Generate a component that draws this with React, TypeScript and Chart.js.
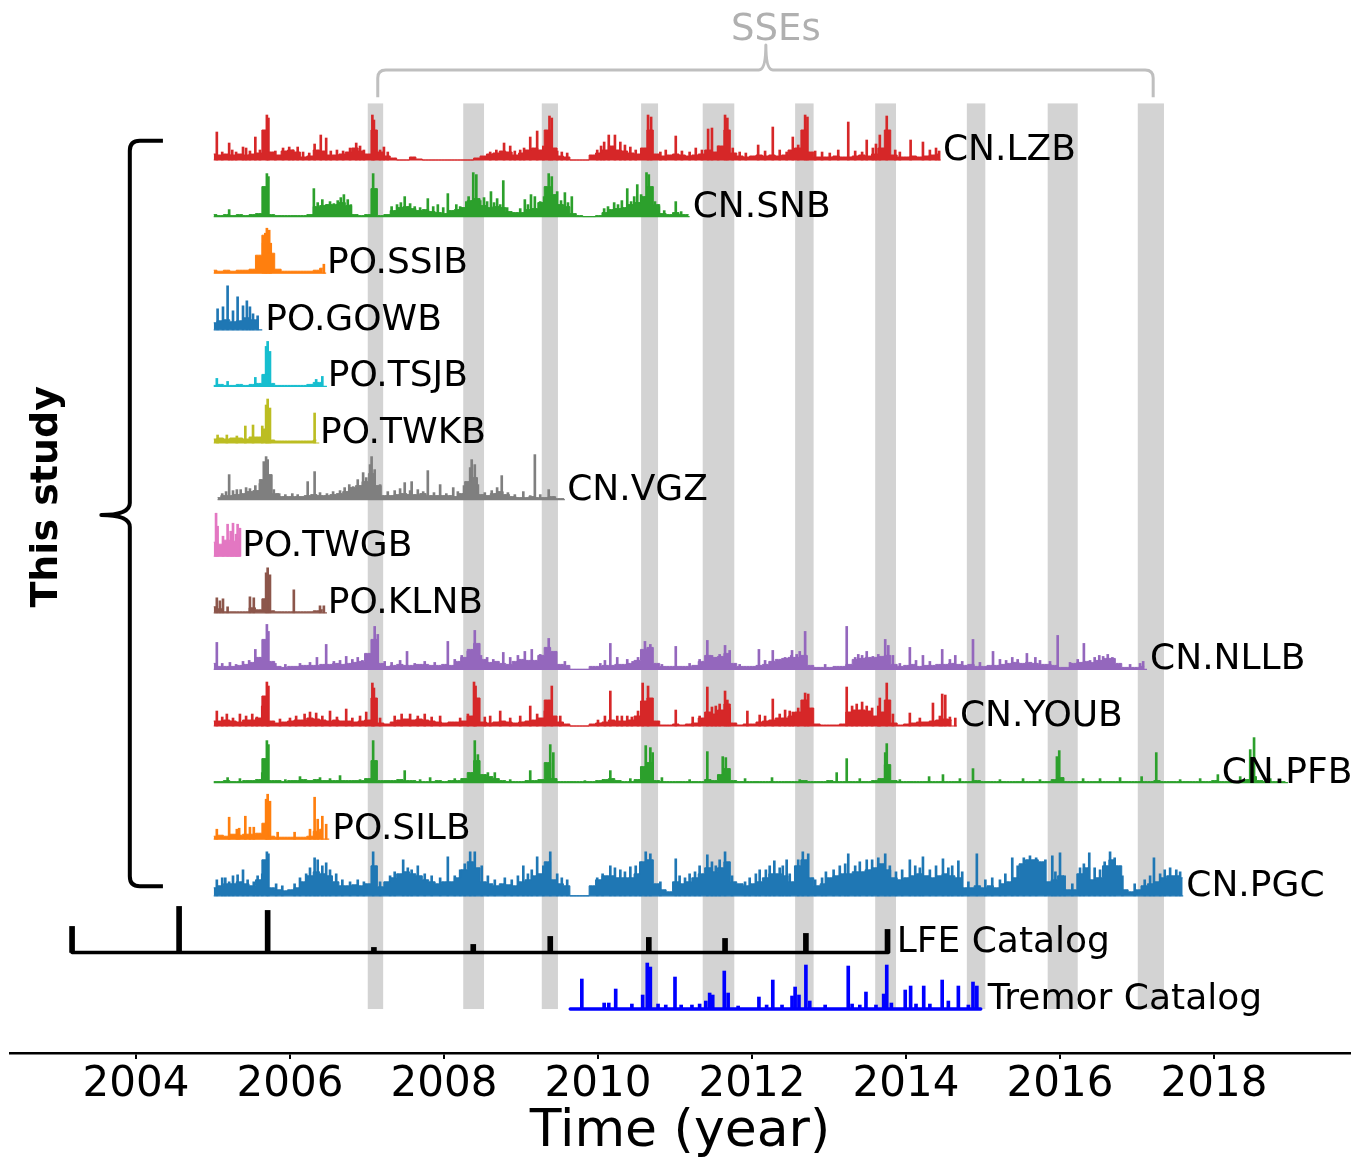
import React, { useEffect, useRef } from 'react';
import { Chart, registerables } from 'chart.js';

Chart.register(...registerables);

const FONT_FAMILY = '"DejaVu Sans", "Liberation Sans", sans-serif';

// Time axis, decimal years
const X_MIN = 2002.364;
const X_MAX = 2019.766;
const TICK_YEARS = [2004, 2006, 2008, 2010, 2012, 2014, 2016, 2018];

// Slow slip episodes (shaded bands)
const SSE_START = [2007.01, 2008.25, 2009.27, 2010.56, 2011.36, 2012.56, 2013.6, 2014.79, 2015.84, 2017.01];
const SSE_END = [2007.21, 2008.52, 2009.48, 2010.78, 2011.77, 2012.8, 2013.87, 2015.03, 2016.23, 2017.35];

// Amplitude units spanning one row of the stack
const AMP_PER_ROW = 56.6;

// ---- Monthly detection levels per station (amplitude units) ----
const LZB_MONTHLY = [
  6, 5, 6, 5, 6, 5, 6, 7, 30, 8, 5, 9, 10, 8, 3, 4, 10, 9, 5, 5,
  6, 8, 12, 9, 6, 30, 8, 4, 2, 0, 0, 3, 1, 0, 0, 0, 0, 0, 0, 0,
  0, 2, 4, 6, 7, 9, 8, 5, 7, 10, 12, 10, 30, 12, 4, 3, 0, 0, 0, 5,
  7, 10, 14, 10, 9, 7, 6, 12, 30, 6, 4, 5, 6, 5, 4, 5, 6, 10, 8, 14,
  30, 7, 4, 3, 4, 5, 4, 5, 4, 5, 10, 12, 30, 8, 3, 3, 3, 4, 3, 3,
  4, 5, 4, 6, 12, 30, 5, 3, 3, 4, 3, 4, 5, 6,
];
const SNB_MONTHLY = [
  2, 1, 2, 1, 2, 1, 2, 3, 30, 2, 1, 1, 1, 1, 1, 2, 10, 11, 12, 12,
  14, 11, 2, 1, 2, 28, 1, 2, 6, 9, 10, 8, 6, 7, 5, 4, 3, 6, 7, 9,
  16, 18, 11, 9, 10, 9, 5, 4, 4, 7, 8, 14, 30, 22, 12, 10, 3, 1, 0, 0,
  1, 4, 7, 8, 9, 12, 14, 20, 30, 12, 3, 2, 4, 2, 2,
];
const SSIB_MONTHLY = [3, 2, 3, 2, 3, 3, 4, 18, 38, 20, 4, 2, 2, 2, 2, 2, 3, 5];
const GOWB_MONTHLY = [7, 9, 10, 8, 9, 12, 10, 10];
const TSJB_MONTHLY = [1, 2, 1, 1, 2, 1, 2, 3, 12, 3, 1, 1, 1, 1, 1, 2, 4, 4];
const TWKB_MONTHLY = [4, 5, 4, 5, 5, 4, 6, 6, 14, 3, 2, 2, 2, 2, 2, 2, 3];
const VGZ_MONTHLY = [
  2, 4, 4, 5, 6, 8, 9, 20, 25, 6, 3, 3, 3, 3, 4, 5, 4, 4, 5, 6,
  8, 12, 14, 18, 26, 14, 4, 4, 5, 6, 5, 5, 6, 4, 4, 4, 4, 3, 6, 18,
  22, 5, 4, 6, 8, 5, 3, 2, 2, 3, 2, 2, 3, 1, 1,
];
const TWGB_MONTHLY = [14, 12, 16, 15, 18];
const KLNB_MONTHLY = [6, 4, 1, 1, 1, 1, 5, 3, 14, 2, 1, 1, 1, 1, 1, 1, 2, 3];
const NLLB_MONTHLY = [
  6, 3, 3, 3, 4, 5, 7, 12, 30, 8, 3, 2, 3, 3, 4, 4, 4, 5, 5, 6,
  5, 6, 7, 8, 16, 30, 6, 3, 4, 5, 4, 4, 5, 5, 4, 4, 5, 4, 8, 12,
  20, 26, 10, 7, 8, 6, 5, 8, 10, 9, 9, 14, 22, 18, 5, 4, 0, 0, 0, 3,
  3, 4, 4, 5, 5, 6, 9, 20, 22, 6, 3, 3, 3, 3, 3, 4, 8, 14, 12, 13,
  16, 6, 3, 3, 3, 4, 5, 8, 10, 11, 12, 12, 14, 4, 2, 2, 2, 3, 3, 5,
  10, 11, 12, 12, 13, 14, 5, 3, 4, 5, 3, 4, 4, 5, 5, 6, 5, 4, 5, 3,
  3, 4, 4, 5, 6, 7, 6, 7, 6, 5, 5, 4, 2, 2, 6, 7, 8, 7, 9, 11,
  11, 6, 2, 2, 2, 3,
];
const YOUB_MONTHLY = [
  5, 5, 6, 5, 4, 6, 6, 8, 30, 5, 3, 4, 5, 6, 6, 8, 7, 6, 5, 6,
  5, 5, 4, 5, 6, 28, 3, 2, 4, 6, 7, 6, 7, 6, 5, 4, 3, 4, 4, 5,
  10, 28, 4, 3, 4, 5, 4, 3, 4, 5, 6, 8, 26, 10, 4, 2, 0, 0, 0, 2,
  3, 4, 6, 5, 5, 6, 10, 25, 28, 5, 1, 1, 2, 1, 2, 3, 8, 14, 12, 16,
  22, 3, 1, 2, 2, 4, 5, 6, 8, 8, 10, 14, 26, 18, 2, 1, 1, 1, 2, 14,
  16, 16, 15, 10, 14, 26, 3, 1, 2, 3, 4, 4, 5, 6, 7, 6,
];
const PFB_MONTHLY = [
  1, 1, 2, 1, 1, 2, 2, 3, 24, 2, 2, 1, 2, 2, 3, 2, 3, 2, 2, 2,
  2, 2, 2, 2, 4, 22, 2, 2, 2, 3, 2, 2, 1, 1, 1, 2, 1, 2, 2, 4,
  10, 22, 8, 6, 4, 2, 1, 1, 1, 2, 2, 3, 20, 4, 1, 1, 1, 1, 1, 1,
  2, 3, 4, 2, 1, 1, 3, 16, 20, 2, 1, 1, 1, 1, 1, 1, 1, 3, 2, 8,
  14, 2, 1, 1, 1, 1, 1, 1, 1, 1, 1, 1, 2, 1, 1, 1, 2, 1, 1, 1,
  1, 1, 1, 2, 4, 18, 2, 1, 1, 1, 1, 1, 1, 1, 1, 1, 1, 1, 1, 2,
  1, 1, 1, 1, 1, 1, 1, 1, 1, 1, 1, 3, 5, 1, 1, 1, 1, 1, 1, 1,
  1, 1, 1, 1, 1, 1, 1, 2, 1, 1, 1, 1, 1, 1, 1, 1, 2, 1, 1, 1,
  1, 3, 6, 2, 1, 1, 1, 1,
];
const SILB_MONTHLY = [3, 4, 3, 5, 4, 5, 5, 6, 16, 3, 2, 2, 2, 2, 2, 3, 8, 10];
const PGC_MONTHLY = [
  8, 10, 12, 12, 14, 12, 10, 16, 36, 8, 6, 5, 6, 8, 14, 20, 24, 22, 20, 14,
  10, 10, 11, 10, 12, 30, 9, 14, 18, 22, 24, 22, 20, 16, 14, 12, 14, 14, 18, 26,
  34, 28, 14, 12, 10, 12, 11, 10, 14, 16, 20, 22, 34, 16, 12, 10, 0, 0, 0, 10,
  16, 20, 20, 18, 18, 18, 22, 34, 36, 12, 6, 4, 14, 12, 14, 18, 22, 28, 24, 28,
  34, 14, 12, 10, 12, 14, 18, 22, 22, 20, 14, 30, 36, 18, 10, 12, 18, 20, 22, 22,
  24, 24, 26, 28, 32, 26, 18, 16, 18, 20, 22, 20, 18, 20, 22, 20, 18, 8, 8, 10,
  8, 10, 8, 12, 14, 18, 32, 36, 36, 34, 14, 16, 20, 6, 6, 22, 28, 16, 18, 30,
  36, 30, 6, 4, 6, 10, 12, 14, 18, 20, 20, 18,
];

// ---- Isolated daily bursts per station: [year, amplitude] ----
const LZB_SPIKES = [
  [2005.05, 28], [2005.21, 17], [2005.39, 13], [2005.55, 23], [2005.7, 45], [2005.72, 42],
  [2006.32, 16], [2006.4, 25], [2006.47, 22], [2006.86, 17], [2007.07, 45], [2007.09, 40],
  [2008.78, 17], [2009.12, 23], [2009.21, 29], [2009.37, 44], [2009.4, 42], [2010.14, 25],
  [2010.22, 25], [2010.65, 45], [2010.69, 43], [2011.01, 24], [2011.43, 31], [2011.48, 32],
  [2011.65, 45], [2011.68, 42], [2012.08, 15], [2012.27, 33], [2012.53, 23], [2012.69, 45],
  [2012.72, 43], [2013.25, 38], [2013.49, 20], [2013.66, 25], [2013.75, 44], [2014.06, 20],
  [2014.22, 18],
];
const LZB_MINOR = [
  [2005.12, 8], [2005.25, 10], [2005.3, 8], [2005.43, 12], [2005.48, 9], [2005.61, 10],
  [2005.81, 9], [2005.91, 12], [2005.99, 13], [2006.04, 10], [2006.1, 13], [2006.17, 8],
  [2006.25, 7], [2006.53, 9], [2006.61, 10], [2006.69, 9], [2006.78, 12], [2006.91, 14],
  [2006.96, 10], [2007.17, 10], [2007.22, 13], [2007.27, 8], [2008.6, 8], [2008.68, 10],
  [2008.86, 14], [2008.92, 9], [2008.99, 10], [2009.04, 12], [2009.29, 14], [2009.47, 9],
  [2009.53, 8], [2009.6, 7], [2009.99, 10], [2010.04, 14], [2010.08, 18], [2010.29, 18],
  [2010.35, 15], [2010.42, 13], [2010.49, 10], [2010.81, 8], [2010.88, 10], [2011.09, 9],
  [2011.19, 8], [2011.27, 12], [2011.35, 10], [2011.56, 14], [2011.75, 12], [2011.84, 8],
  [2011.92, 7], [2012.17, 9], [2012.36, 10], [2012.45, 8], [2012.6, 15], [2012.82, 9],
  [2012.91, 8], [2013.01, 7], [2013.12, 10], [2013.34, 9], [2013.43, 8], [2013.57, 12],
  [2013.61, 16], [2013.86, 10], [2013.92, 8], [2014.31, 10], [2014.39, 12], [2014.43, 9],
];
const SNB_SPIKES = [
  [2005.21, 7], [2005.7, 43], [2005.72, 40], [2006.31, 28], [2006.42, 17], [2006.7, 22],
  [2006.75, 17], [2007.08, 43], [2007.49, 20], [2007.79, 18], [2008.05, 23], [2008.38, 44],
  [2008.42, 42], [2008.61, 25], [2008.69, 18], [2008.77, 36], [2009.05, 17], [2009.13, 22],
  [2009.18, 20], [2009.36, 43], [2009.4, 40], [2009.47, 25], [2009.57, 24], [2009.66, 20],
  [2010.38, 28], [2010.51, 32], [2010.63, 44], [2010.66, 42], [2011.01, 15],
];
const SNB_MINOR = [
  [2006.36, 14], [2006.47, 12], [2006.52, 15], [2006.57, 13], [2006.62, 16], [2006.66, 19],
  [2006.79, 12], [2007.32, 10], [2007.39, 12], [2007.44, 14], [2007.56, 13], [2007.62, 10],
  [2007.69, 9], [2007.86, 10], [2007.92, 12], [2007.99, 9], [2008.16, 12], [2008.21, 10],
  [2008.29, 15], [2008.32, 20], [2008.47, 16], [2008.52, 19], [2008.56, 15], [2008.65, 14],
  [2008.73, 12], [2008.82, 9], [2008.99, 8], [2009.09, 12], [2009.25, 15], [2009.3, 20],
  [2009.52, 16], [2009.61, 14], [2010.08, 8], [2010.13, 10], [2010.21, 14], [2010.26, 12],
  [2010.31, 16], [2010.43, 15], [2010.47, 20], [2010.56, 22], [2010.74, 15], [2010.79, 10],
  [2010.86, 6], [2011.08, 5],
];
const SSIB_SPIKES = [[2005.65, 30], [2005.68, 40], [2005.7, 45], [2005.73, 43], [2005.75, 30], [2006.44, 9]];
const GOWB_SPIKES = [
  [2005.06, 21], [2005.13, 23], [2005.19, 44], [2005.26, 19], [2005.32, 33], [2005.39, 24],
  [2005.44, 29], [2005.48, 23], [2005.52, 16], [2005.58, 14],
];
const TSJB_SPIKES = [
  [2005.05, 8], [2005.19, 5], [2005.55, 9], [2005.69, 40], [2005.71, 45], [2005.74, 35],
  [2006.34, 7], [2006.42, 10],
];
const TWKB_SPIKES = [
  [2005.06, 8], [2005.18, 8], [2005.31, 7], [2005.42, 17], [2005.52, 18], [2005.64, 17],
  [2005.69, 38], [2005.71, 44], [2005.74, 35], [2006.32, 30],
];
const VGZ_SPIKES = [
  [2005.21, 25], [2005.31, 10], [2005.66, 38], [2005.69, 43], [2005.71, 40], [2006.23, 18],
  [2006.32, 28], [2006.88, 20], [2006.95, 27], [2007.04, 35], [2007.06, 43], [2007.1, 30],
  [2007.49, 17], [2007.58, 18], [2007.79, 29], [2007.95, 15], [2008.12, 12], [2008.34, 32],
  [2008.36, 40], [2008.4, 35], [2008.75, 24], [2009.03, 8], [2009.18, 45], [2009.36, 10],
];
const VGZ_MINOR = [
  [2005.12, 6], [2005.17, 8], [2005.26, 9], [2005.36, 10], [2005.43, 12], [2005.48, 11],
  [2005.55, 14], [2005.61, 16], [2005.79, 10], [2005.86, 6], [2005.94, 5], [2006.03, 6],
  [2006.1, 5], [2006.39, 7], [2006.48, 6], [2006.56, 8], [2006.65, 9], [2006.71, 12],
  [2006.77, 15], [2006.82, 13], [2006.99, 22], [2007.17, 15], [2007.27, 8], [2007.36, 9],
  [2007.43, 11], [2007.56, 9], [2007.66, 10], [2007.73, 8], [2007.87, 7], [2008.03, 6],
  [2008.18, 8], [2008.26, 14], [2008.44, 15], [2008.53, 7], [2008.62, 9], [2008.69, 12],
  [2008.83, 7], [2008.92, 5], [2009.12, 4], [2009.25, 5], [2009.44, 3],
];
const TWGB_SPIKES = [
  [2005.04, 43], [2005.06, 30], [2005.13, 20], [2005.19, 32], [2005.23, 25], [2005.26, 33],
  [2005.3, 22], [2005.32, 32], [2005.35, 28],
];
const KLNB_SPIKES = [
  [2005.05, 15], [2005.09, 12], [2005.13, 14], [2005.19, 6], [2005.48, 16], [2005.53, 15],
  [2005.69, 40], [2005.71, 45], [2005.74, 38], [2006.05, 23], [2006.39, 7], [2006.44, 7],
];
const NLLB_SPIKES = [
  [2005.05, 27], [2005.39, 8], [2005.55, 20], [2005.7, 45], [2005.72, 38], [2006.35, 12],
  [2006.47, 25], [2006.73, 13], [2007.1, 43], [2007.14, 35], [2007.52, 18], [2008.05, 28],
  [2008.4, 39], [2008.77, 17], [2009.05, 18], [2009.14, 20], [2009.36, 31], [2010.16, 26],
  [2010.25, 12], [2010.38, 10], [2010.61, 28], [2010.68, 25], [2011.01, 23], [2011.42, 29],
  [2011.65, 24], [2011.71, 19], [2012.09, 20], [2012.27, 19], [2012.52, 19], [2012.69, 38],
  [2013.23, 43], [2013.49, 18], [2013.73, 30], [2013.77, 24], [2014.05, 22], [2014.22, 14],
  [2014.47, 20], [2014.87, 30], [2015.13, 18], [2015.57, 16], [2015.97, 34], [2016.31, 26],
  [2016.56, 13], [2017.08, 8],
];
const NLLB_MINOR = [
  [2005.12, 6], [2005.22, 7], [2005.3, 5], [2005.47, 9], [2005.61, 12], [2005.81, 6],
  [2005.94, 5], [2006.13, 6], [2006.26, 7], [2006.57, 8], [2006.65, 9], [2006.81, 10],
  [2006.88, 12], [2006.94, 9], [2006.99, 15], [2007.23, 8], [2007.32, 7], [2007.43, 9],
  [2007.62, 6], [2007.75, 8], [2007.88, 7], [2008.14, 10], [2008.23, 14], [2008.31, 18],
  [2008.48, 14], [2008.56, 12], [2008.64, 10], [2008.86, 12], [2008.96, 14], [2009.25, 15],
  [2009.45, 12], [2009.57, 8], [2010.03, 6], [2010.09, 9], [2010.45, 8], [2010.52, 12],
  [2010.83, 5], [2011.19, 6], [2011.32, 10], [2011.48, 14], [2011.53, 12], [2011.58, 15],
  [2011.84, 5], [2012.17, 9], [2012.43, 12], [2012.51, 14], [2012.56, 12], [2012.58, 15],
  [2012.62, 18], [2012.95, 5], [2013.34, 12], [2013.38, 15], [2013.43, 14], [2013.57, 13],
  [2013.64, 15], [2013.83, 14], [2013.92, 6], [2014.13, 9], [2014.31, 8], [2014.57, 10],
  [2014.64, 14], [2014.73, 8], [2014.96, 7], [2015.22, 10], [2015.3, 9], [2015.38, 12],
  [2015.45, 10], [2015.68, 12], [2015.74, 9], [2015.87, 8], [2016.13, 7], [2016.23, 10],
  [2016.39, 9], [2016.45, 12], [2016.51, 14], [2016.62, 15], [2016.68, 12], [2016.91, 5],
  [2017.04, 6],
];
const YOUB_SPIKES = [
  [2005.05, 15], [2005.35, 12], [2005.64, 20], [2005.7, 44], [2005.72, 40], [2006.34, 13],
  [2006.52, 15], [2006.73, 17], [2007.07, 43], [2007.09, 38], [2007.56, 12], [2007.95, 10],
  [2008.39, 44], [2008.41, 40], [2008.73, 15], [2009.12, 20], [2009.4, 40], [2010.16, 35],
  [2010.25, 10], [2010.38, 10], [2010.44, 9], [2010.58, 43], [2010.65, 40], [2011.01, 16],
  [2011.23, 9], [2011.42, 39], [2011.48, 19], [2011.65, 35], [2011.68, 26], [2011.94, 15],
  [2012.1, 11], [2012.27, 27], [2012.43, 16], [2012.53, 14], [2012.69, 33], [2012.73, 32],
  [2013.23, 39], [2013.66, 28], [2013.75, 43], [2014.05, 13], [2014.35, 23], [2014.47, 32],
  [2014.51, 31],
];
const YOUB_MINOR = [
  [2005.12, 9], [2005.18, 12], [2005.26, 8], [2005.43, 10], [2005.51, 12], [2005.57, 9],
  [2005.87, 7], [2006.0, 8], [2006.08, 10], [2006.19, 12], [2006.26, 14], [2006.42, 10],
  [2006.61, 9], [2006.81, 8], [2006.91, 10], [2006.99, 14], [2007.17, 8], [2007.36, 10],
  [2007.45, 12], [2007.66, 10], [2007.75, 12], [2007.84, 9], [2008.21, 8], [2008.31, 12],
  [2008.53, 9], [2008.6, 10], [2008.86, 8], [2008.99, 10], [2009.21, 12], [2009.31, 15],
  [2009.51, 10], [2010.0, 6], [2010.09, 10], [2010.31, 10], [2010.52, 15], [2011.32, 10],
  [2011.53, 20], [2011.58, 22], [2011.71, 18], [2012.17, 10], [2012.36, 12], [2012.49, 15],
  [2012.6, 18], [2013.3, 20], [2013.36, 22], [2013.43, 24], [2013.49, 20], [2013.56, 18],
  [2013.64, 20], [2013.83, 12], [2014.18, 8], [2014.44, 10], [2014.57, 9], [2014.64, 8],
];
const PFB_SPIKES = [
  [2005.19, 5], [2005.64, 10], [2005.7, 42], [2005.72, 38], [2006.13, 6], [2006.39, 5],
  [2006.65, 7], [2007.08, 42], [2007.49, 12], [2007.82, 5], [2008.4, 42], [2008.44, 28],
  [2008.57, 10], [2008.66, 10], [2009.12, 12], [2009.38, 38], [2009.42, 30], [2010.16, 12],
  [2010.62, 37], [2010.68, 35], [2010.71, 30], [2010.83, 5], [2011.42, 31], [2011.62, 26],
  [2011.66, 25], [2012.26, 5], [2013.1, 10], [2013.23, 24], [2013.73, 30], [2013.75, 39],
  [2014.3, 6], [2014.48, 8], [2014.87, 14], [2015.52, 4], [2015.96, 26], [2015.99, 32],
  [2016.3, 4], [2017.06, 6], [2017.25, 30], [2018.05, 8], [2018.47, 33], [2018.52, 45],
];
const PFB_MINOR = [
  [2005.35, 4], [2005.94, 3], [2006.52, 4], [2006.91, 3], [2007.69, 3], [2008.14, 4],
  [2008.86, 3], [2009.83, 2], [2010.42, 4], [2011.19, 3], [2011.91, 4], [2012.62, 3],
  [2013.4, 4], [2013.92, 3], [2014.7, 4], [2015.22, 3], [2015.74, 3], [2016.52, 4],
  [2016.78, 5], [2017.56, 3], [2017.82, 4], [2018.34, 6], [2018.73, 4],
];
const SILB_SPIKES = [
  [2005.05, 10], [2005.21, 22], [2005.31, 10], [2005.34, 11], [2005.42, 23], [2005.48, 12],
  [2005.53, 12], [2005.69, 40], [2005.71, 45], [2005.74, 38], [2005.84, 7], [2006.06, 7],
  [2006.26, 10], [2006.32, 42], [2006.36, 20], [2006.42, 23], [2006.47, 15],
];
const PGC_SPIKES = [
  [2005.05, 16], [2005.16, 18], [2005.32, 21], [2005.39, 26], [2005.7, 44], [2005.72, 42],
  [2006.32, 38], [2006.36, 36], [2006.47, 33], [2007.08, 44], [2007.47, 36], [2008.05, 39],
  [2008.34, 44], [2008.4, 44], [2009.03, 30], [2009.21, 39], [2009.38, 44], [2010.16, 30],
  [2010.42, 29], [2010.62, 44], [2010.68, 42], [2011.01, 37], [2011.42, 41], [2011.65, 44],
  [2012.1, 26], [2012.29, 35], [2012.45, 36], [2012.66, 44], [2012.73, 42], [2013.25, 42],
  [2013.49, 36], [2013.73, 42], [2014.05, 36], [2014.22, 39], [2014.48, 37], [2014.68, 35],
  [2014.92, 42], [2015.38, 38], [2015.61, 40], [2015.9, 40], [2016.0, 43], [2016.38, 43],
  [2016.65, 44], [2017.22, 38],
];
const PGC_MINOR = [
  [2005.12, 18], [2005.21, 14], [2005.26, 20], [2005.45, 16], [2005.53, 14], [2005.58, 20],
  [2005.64, 22], [2005.82, 12], [2005.9, 10], [2006.06, 12], [2006.13, 18], [2006.21, 22],
  [2006.26, 28], [2006.42, 30], [2006.52, 26], [2006.6, 22], [2006.68, 16], [2006.78, 14],
  [2006.88, 16], [2006.96, 14], [2007.17, 14], [2007.3, 20], [2007.36, 24], [2007.53, 28],
  [2007.58, 26], [2007.66, 30], [2007.75, 22], [2007.84, 20], [2007.95, 18], [2008.14, 20],
  [2008.21, 26], [2008.27, 32], [2008.49, 30], [2008.57, 20], [2008.66, 16], [2008.79, 18],
  [2008.88, 16], [2008.96, 20], [2009.09, 22], [2009.14, 26], [2009.29, 30], [2009.47, 22],
  [2009.53, 18], [2009.6, 16], [2009.99, 18], [2010.06, 22], [2010.22, 28], [2010.29, 26],
  [2010.35, 24], [2010.49, 30], [2010.55, 34], [2010.81, 14], [2011.06, 20], [2011.13, 18],
  [2011.19, 22], [2011.26, 24], [2011.32, 30], [2011.48, 34], [2011.53, 30], [2011.58, 36],
  [2011.74, 20], [2011.91, 14], [2011.97, 18], [2012.05, 22], [2012.18, 26], [2012.23, 30],
  [2012.36, 28], [2012.4, 30], [2012.49, 22], [2012.6, 36], [2012.82, 16], [2012.91, 18],
  [2012.96, 24], [2013.06, 26], [2013.14, 30], [2013.21, 32], [2013.34, 30], [2013.4, 34],
  [2013.56, 36], [2013.64, 38], [2013.79, 30], [2013.87, 24], [2013.95, 26], [2014.12, 30],
  [2014.18, 28], [2014.31, 26], [2014.39, 30], [2014.55, 28], [2014.6, 30], [2014.73, 24],
  [2014.81, 14], [2015.03, 16], [2015.12, 18], [2015.22, 16], [2015.29, 22], [2015.45, 30],
  [2015.53, 38], [2015.69, 38], [2015.81, 36], [2015.94, 24], [2016.06, 20], [2016.16, 12],
  [2016.26, 28], [2016.31, 32], [2016.45, 28], [2016.52, 26], [2016.58, 34], [2016.71, 38],
  [2016.81, 20], [2016.97, 12], [2017.1, 16], [2017.17, 20], [2017.3, 22], [2017.36, 26],
  [2017.43, 28], [2017.51, 26], [2017.56, 24],
];

// ---- Catalog event bursts: [year, amplitude] ----
const LFE_EVENTS = [
  [2003.17, 26], [2004.56, 46], [2005.71, 42], [2007.09, 5], [2008.38, 8], [2009.38, 16],
  [2010.66, 15], [2011.65, 14], [2012.7, 19], [2013.76, 23],
];
const TREMOR_EVENTS = [
  [2009.79, 30], [2010.08, 6], [2010.14, 6], [2010.23, 20], [2010.44, 5], [2010.58, 14],
  [2010.64, 46], [2010.68, 42], [2010.78, 5], [2010.88, 4], [2011.0, 32], [2011.08, 4],
  [2011.22, 4], [2011.32, 5], [2011.4, 8], [2011.45, 16], [2011.49, 14], [2011.64, 38],
  [2011.69, 16], [2011.82, 3], [2012.09, 12], [2012.19, 4], [2012.27, 29], [2012.39, 4],
  [2012.52, 13], [2012.56, 22], [2012.61, 14], [2012.7, 44], [2012.75, 8], [2012.95, 4],
  [2013.25, 43], [2013.3, 5], [2013.4, 4], [2013.48, 17], [2013.61, 4], [2013.71, 15],
  [2013.75, 44], [2013.81, 6], [2013.99, 19], [2014.06, 23], [2014.13, 5], [2014.23, 23],
  [2014.31, 5], [2014.47, 29], [2014.55, 8], [2014.68, 23], [2014.81, 4], [2014.87, 27],
  [2014.92, 23],
];

// ---- Row table, top to bottom ----
const LABELS = [
  'CN.LZB', 'CN.SNB', 'PO.SSIB', 'PO.GOWB', 'PO.TSJB', 'PO.TWKB', 'CN.VGZ', 'PO.TWGB',
  'PO.KLNB', 'CN.NLLB', 'CN.YOUB', 'CN.PFB', 'PO.SILB', 'CN.PGC', 'LFE Catalog', 'Tremor Catalog',
];
const COLORS = [
  '#d62728', '#2ca02c', '#ff7f0e', '#1f77b4', '#17becf', '#bcbd22', '#7f7f7f', '#e377c2',
  '#8c564b', '#9467bd', '#d62728', '#2ca02c', '#ff7f0e', '#1f77b4', '#000000', '#0000ff',
];
const SPAN_START = [
  2005.01, 2005.01, 2005.01, 2005.01, 2005.01, 2005.01, 2005.06, 2005.01,
  2005.01, 2005.01, 2005.01, 2005.01, 2005.01, 2005.01, 2003.17, 2009.64,
];
const SPAN_END = [
  2014.45, 2011.19, 2006.47, 2005.64, 2006.48, 2006.38, 2009.57, 2005.36,
  2006.48, 2017.13, 2014.66, 2018.96, 2006.51, 2017.6, 2013.77, 2014.97,
];
const LABEL_YEAR = [
  2014.48, 2011.23, 2006.48, 2005.68, 2006.49, 2006.39, 2009.6, 2005.38,
  2006.49, 2017.17, 2014.7, 2018.1, 2006.55, 2017.64, 2013.88, 2015.06,
];
const MONTHLY: (number[] | null)[] = [
  LZB_MONTHLY, SNB_MONTHLY, SSIB_MONTHLY, GOWB_MONTHLY, TSJB_MONTHLY, TWKB_MONTHLY, VGZ_MONTHLY,
  TWGB_MONTHLY, KLNB_MONTHLY, NLLB_MONTHLY, YOUB_MONTHLY, PFB_MONTHLY, SILB_MONTHLY, PGC_MONTHLY,
  null, null,
];
const BURSTS = [
  [...LZB_SPIKES, ...LZB_MINOR], [...SNB_SPIKES, ...SNB_MINOR], SSIB_SPIKES, GOWB_SPIKES,
  TSJB_SPIKES, TWKB_SPIKES, [...VGZ_SPIKES, ...VGZ_MINOR], TWGB_SPIKES, KLNB_SPIKES,
  [...NLLB_SPIKES, ...NLLB_MINOR], [...YOUB_SPIKES, ...YOUB_MINOR], [...PFB_SPIKES, ...PFB_MINOR],
  SILB_SPIKES, [...PGC_SPIKES, ...PGC_MINOR], LFE_EVENTS, TREMOR_EVENTS,
];

// Vertical extent in row units (Tremor row sits at 0, LZB at 15)
const Y_MIN = -0.777;
const Y_MAX = 17.827;
const BAND_TOP = 16;

const rowBase = (k: number) => LABELS.length - 1 - k;

function buildDatasets() {
  const out: any[] = [];
  LABELS.forEach((_, k) => {
    const base = rowBase(k);
    const color = COLORS[k];
    const isCatalog = k >= 14;
    out.push({
      type: 'line',
      data: [{ x: SPAN_START[k], y: base }, { x: SPAN_END[k], y: base }],
      borderColor: color,
      borderWidth: isCatalog ? 3.5 : 1.2,
      borderCapStyle: isCatalog ? 'round' : 'butt',
      pointRadius: 0,
      fill: false,
    });
    const monthly = MONTHLY[k];
    if (monthly) {
      out.push({
        type: 'line',
        data: monthly.map((v, i) => ({ x: SPAN_START[k] + i / 12, y: base + v / AMP_PER_ROW })),
        borderColor: color,
        backgroundColor: color,
        borderWidth: 1,
        pointRadius: 0,
        stepped: 'middle',
        fill: { value: base },
      });
    }
    out.push({
      type: 'bar',
      data: BURSTS[k].map(([t, h]) => ({ x: t, y: [base, base + h / AMP_PER_ROW] })),
      backgroundColor: color,
      borderWidth: 0,
      barThickness: k === 14 ? 5 : k === 15 ? 3 : 2,
      grouped: false,
    });
  });
  return out;
}

const bandsPlugin = {
  id: 'sseBands',
  beforeDatasetsDraw(chart: any) {
    const { ctx, scales } = chart;
    const x = scales.x;
    const y = scales.y;
    const top = y.getPixelForValue(BAND_TOP);
    const bottom = y.getPixelForValue(0);
    ctx.save();
    ctx.fillStyle = '#d3d3d3';
    SSE_START.forEach((s, i) => {
      const x0 = x.getPixelForValue(s);
      const x1 = x.getPixelForValue(SSE_END[i]);
      ctx.fillRect(x0, top, x1 - x0, bottom - top);
    });
    ctx.restore();
  },
};

const annotationPlugin = {
  id: 'annotations',
  afterDatasetsDraw(chart: any) {
    const { ctx, scales } = chart;
    const x = scales.x;
    const y = scales.y;
    ctx.save();

    // row labels
    ctx.fillStyle = '#000';
    ctx.font = `36px ${FONT_FAMILY}`;
    ctx.textAlign = 'left';
    ctx.textBaseline = 'alphabetic';
    LABELS.forEach((label, k) => {
      ctx.fillText(label, x.getPixelForValue(LABEL_YEAR[k]), y.getPixelForValue(rowBase(k)));
    });

    // bracket over the slow slip bands
    const lx = x.getPixelForValue(2007.14);
    const rx = x.getPixelForValue(2017.21);
    const cx = x.getPixelForValue(2012.18);
    const yl = y.getPixelForValue(16.59);
    const yd = y.getPixelForValue(16.11);
    const yt = y.getPixelForValue(17.03);
    const r = 8;
    ctx.strokeStyle = '#bfbfbf';
    ctx.lineWidth = 3;
    ctx.lineJoin = 'round';
    ctx.beginPath();
    ctx.moveTo(lx, yd);
    ctx.lineTo(lx, yl + r);
    ctx.quadraticCurveTo(lx, yl, lx + r, yl);
    ctx.lineTo(cx - 7, yl);
    ctx.quadraticCurveTo(cx, yl, cx, yt);
    ctx.quadraticCurveTo(cx, yl, cx + 7, yl);
    ctx.lineTo(rx - r, yl);
    ctx.quadraticCurveTo(rx, yl, rx, yl + r);
    ctx.lineTo(rx, yd);
    ctx.stroke();

    ctx.fillStyle = '#b0b0b0';
    ctx.font = `37px ${FONT_FAMILY}`;
    ctx.textAlign = 'center';
    ctx.fillText('SSEs', x.getPixelForValue(2012.31), y.getPixelForValue(17.12));

    // curly brace grouping the station rows
    const stem = x.getPixelForValue(2003.92);
    const tip = x.getPixelForValue(2004.35);
    const cusp = x.getPixelForValue(2003.55);
    const bt = y.getPixelForValue(15.34);
    const bb = y.getPixelForValue(2.17);
    const bm = y.getPixelForValue(8.73);
    const br = 10;
    ctx.strokeStyle = '#000';
    ctx.lineWidth = 4;
    ctx.beginPath();
    ctx.moveTo(tip, bt);
    ctx.lineTo(stem + br, bt);
    ctx.quadraticCurveTo(stem, bt, stem, bt + br);
    ctx.lineTo(stem, bm - 12);
    ctx.quadraticCurveTo(stem, bm, cusp, bm);
    ctx.quadraticCurveTo(stem, bm, stem, bm + 12);
    ctx.lineTo(stem, bb - br);
    ctx.quadraticCurveTo(stem, bb, stem + br, bb);
    ctx.lineTo(tip, bb);
    ctx.stroke();

    // group title
    ctx.fillStyle = '#000';
    ctx.font = `bold 38px ${FONT_FAMILY}`;
    ctx.textAlign = 'center';
    ctx.textBaseline = 'middle';
    ctx.translate(x.getPixelForValue(2002.84), y.getPixelForValue(9.05));
    ctx.rotate(-Math.PI / 2);
    ctx.fillText('This study', 0, 0);

    ctx.restore();
  },
};

export default function App() {
  const canvasRef = useRef<HTMLCanvasElement>(null);

  useEffect(() => {
    const canvas = canvasRef.current;
    if (!canvas) return;
    const chart = new Chart(canvas, {
      type: 'line',
      data: { datasets: buildDatasets() },
      options: {
        responsive: false,
        maintainAspectRatio: false,
        devicePixelRatio: 1,
        animation: false,
        events: [],
        layout: { padding: { left: 10, right: 20, top: 0, bottom: 0 } },
        plugins: {
          legend: { display: false },
          tooltip: { enabled: false },
        },
        scales: {
          x: {
            type: 'linear',
            min: X_MIN,
            max: X_MAX,
            offset: false,
            afterBuildTicks: (scale: any) => {
              scale.ticks = TICK_YEARS.map((v) => ({ value: v }));
            },
            afterFit: (scale: any) => {
              scale.height = 105;
            },
            ticks: {
              autoSkip: false,
              maxRotation: 0,
              padding: 1,
              color: '#000',
              font: { family: FONT_FAMILY, size: 42 },
              callback: (v: any) => String(v),
            },
            grid: {
              display: true,
              offset: false,
              drawOnChartArea: false,
              drawTicks: true,
              tickLength: 6,
              color: '#000',
              lineWidth: 2,
            },
            border: { display: true, color: '#000', width: 2.5 },
            title: {
              display: true,
              text: 'Time (year)',
              color: '#000',
              font: { family: FONT_FAMILY, size: 52, lineHeight: 1 },
              padding: { top: 0, bottom: 0 },
            },
          },
          y: {
            type: 'linear',
            display: false,
            min: Y_MIN,
            max: Y_MAX,
          },
        },
      } as any,
      plugins: [bandsPlugin, annotationPlugin],
    });
    return () => chart.destroy();
  }, []);

  return (
    <div style={{ position: 'absolute', left: 0, top: 0, width: 1370, height: 1158, background: '#fff' }}>
      <canvas ref={canvasRef} width={1370} height={1158} style={{ display: 'block', width: 1370, height: 1158 }} />
    </div>
  );
}
